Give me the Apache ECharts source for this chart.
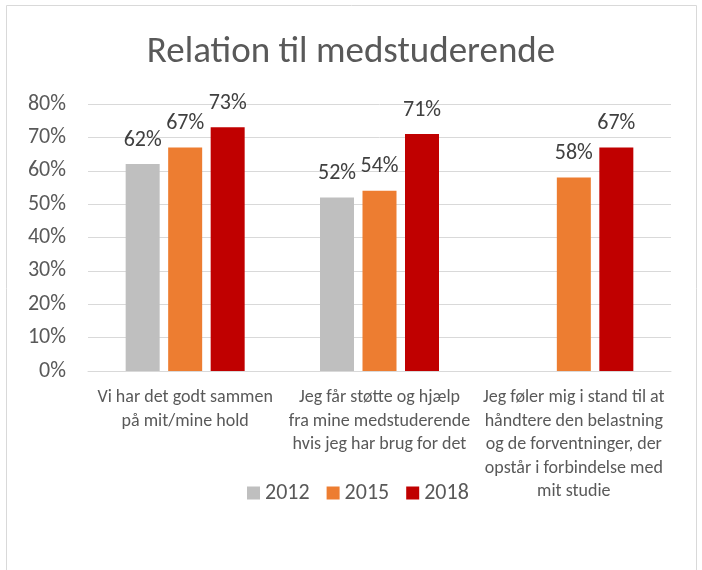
<!DOCTYPE html>
<html>
<head>
<meta charset="utf-8">
<script src="https://cdn.jsdelivr.net/npm/echarts@6/dist/echarts.min.js"></script>
<style>
  html, body { margin: 0; padding: 0; background: #fff; }
  #main { width: 702px; height: 570px; }
</style>
</head>
<body>
<div id="main"></div>
<script>
// kategorier (med linjeskift som i originalen)
var categories = [
    'Vi har det godt sammen\npå mit/mine hold',
    'Jeg får støtte og hjælp\nfra mine medstuderende\nhvis jeg har brug for det',
    'Jeg føler mig i stand til at\nhåndtere den belastning\nog de forventninger, der\nopstår i forbindelse med\nmit studie'
];
var seriesNames = ['2012', '2015', '2018'];
var data2012 = [62, 52, null];
var data2015 = [67, 54, 58];
var data2018 = [73, 71, 67];
var colors = ['#BFBFBF', '#ED7D31', '#C00000'];

var fontFam = "Carlito, 'Liberation Sans Narrow', 'Noto Sans', sans-serif";

var myChart = echarts.init(document.getElementById('main'));

function makeSeries(name, data, color) {
    return {
        name: name,
        type: 'bar',
        data: data,
        barWidth: 34,
        barGap: '25%',
        itemStyle: { color: color },
        label: {
            show: true,
            position: 'top',
            distance: 13,
            formatter: '{c}%',
            color: '#404040',
            fontSize: 22,
            fontFamily: fontFam
        },
        animation: false
    };
}

var option = {
    textStyle: { fontFamily: fontFam },
    title: {
        text: 'Relation til medstuderende',
        left: 'center',
        top: 29,
        textStyle: { color: '#595959', fontSize: 37, fontWeight: 'normal', fontFamily: fontFam }
    },
    legend: {
        data: seriesNames,
        left: 242,
        top: 477,
        itemWidth: 13,
        itemHeight: 13,
        itemGap: 17,
        icon: 'rect',
        textStyle: { color: '#595959', fontSize: 22, fontFamily: fontFam }
    },
    grid: { left: 88, right: 31, top: 104, bottom: 199 },
    xAxis: {
        type: 'category',
        data: categories,
        axisLine: { lineStyle: { color: '#D9D9D9' } },
        axisTick: { show: false },
        axisLabel: {
            color: '#595959',
            fontSize: 18,
            lineHeight: 23.5,
            margin: 15,
            interval: 0,
            fontFamily: fontFam
        }
    },
    yAxis: {
        type: 'value',
        min: 0,
        max: 80,
        interval: 10,
        axisLine: { show: false },
        axisTick: { show: false },
        splitLine: { lineStyle: { color: '#D9D9D9' } },
        axisLabel: {
            formatter: '{value}%',
            color: '#595959',
            fontSize: 22,
            margin: 22,
            fontFamily: fontFam
        }
    },
    graphic: [{
        type: 'rect',
        shape: { x: 6.5, y: 5.5, width: 690, height: 600 },
        style: { fill: 'none', stroke: '#D9D9D9', lineWidth: 1 },
        silent: true
    }],
    series: [
        makeSeries(seriesNames[0], data2012, colors[0]),
        makeSeries(seriesNames[1], data2015, colors[1]),
        makeSeries(seriesNames[2], data2018, colors[2])
    ]
};

myChart.setOption(option);
</script>
</body>
</html>
